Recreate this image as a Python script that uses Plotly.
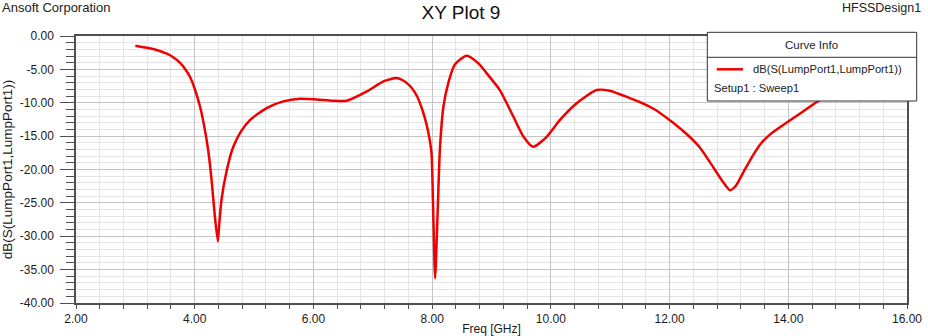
import plotly.graph_objects as go

# ---- data ----
freq_ghz = [3.00, 3.30, 3.53, 3.65, 3.75, 3.85, 3.92, 4.00, 4.09, 4.16, 4.23,
            4.29, 4.34, 4.39, 4.41, 4.45, 4.54, 4.65, 4.78, 4.93, 5.21, 5.49,
            5.77, 6.05, 6.33, 6.56, 6.90, 7.18, 7.40, 7.52, 7.64, 7.75, 7.84,
            7.91, 7.96, 7.99, 8.02, 8.05, 8.09, 8.13, 8.19, 8.27, 8.38, 8.58,
            8.78, 8.92, 9.14, 9.37, 9.54, 9.70, 9.93, 10.15, 10.43, 10.77,
            10.99, 11.33, 11.50, 11.73, 12.06, 12.30, 12.50, 12.68, 12.88,
            13.02, 13.12, 13.25, 13.41, 13.55, 13.70, 13.92, 14.25, 14.53,
            15.00, 15.50, 16.00]
s11_db = [-1.45, -1.95, -2.65, -3.25, -4.0, -5.1, -6.1, -7.9, -10.6, -13.5, -17.3,
          -22.1, -27.1, -30.8, -28.6, -24.6, -20.1, -16.6, -14.3, -12.6, -10.8, -9.8,
          -9.4, -9.5, -9.7, -9.7, -8.3, -6.8, -6.3, -6.7, -7.6, -9.1, -11.2,
          -13.4, -15.6, -17.6, -27.1, -36.3, -27.1, -17.1, -10.6, -7.1, -4.3, -2.95,
          -4.1, -5.6, -8.1, -12.1, -15.1, -16.6, -15.1, -12.6, -10.1, -8.1,
          -8.2, -9.3, -9.9, -10.9, -13.0, -14.8, -16.6, -18.9, -21.6,
          -23.1, -22.4, -20.3, -17.8, -16.0, -14.7, -13.3, -11.3, -9.6,
          -7.8, -6.5, -5.5]

x_tick_vals = [2, 4, 6, 8, 10, 12, 14, 16]
x_tick_labels = ["2.00", "4.00", "6.00", "8.00", "10.00", "12.00", "14.00", "16.00"]
y_tick_vals = [0, -5, -10, -15, -20, -25, -30, -35, -40]
y_tick_labels = ["0.00", "-5.00", "-10.00", "-15.00", "-20.00", "-25.00",
                 "-30.00", "-35.00", "-40.00"]

curve_name = "dB(S(LumpPort1,LumpPort1))"
sweep_name = "Setup1 : Sweep1"

# ---- geometry ----
W, H = 928, 336
L, R, T, B = 76, 907, 36, 303
PW, PH = R - L, B - T
FONT = "Liberation Sans, Arial, sans-serif"
RED = "#f00000"


def px(x):
    return (x - L) / PW


def py(y):
    return (B - y) / PH


fig = go.Figure()
fig.add_trace(go.Scatter(x=freq_ghz, y=s11_db, mode="lines",
                         line=dict(color=RED, width=2.5, shape="spline",
                                   smoothing=0.6),
                         showlegend=False))

grid_major = "#c4c4c4"
grid_minor = "#e4e4e4"
axis_col = "#505050"

fig.update_layout(
    width=W, height=H,
    margin=dict(l=L, r=W - R, t=T, b=H - B, pad=0, autoexpand=False),
    paper_bgcolor="white", plot_bgcolor="white",
    font=dict(family=FONT, size=12, color="#1a1a1a"),
    title=dict(text="XY Plot 9", x=461 / W, y=1 - 12 / H, xref="container",
               yref="container", xanchor="center", yanchor="middle",
               automargin=False,
               font=dict(family=FONT, size=19, color="#111")),
    xaxis=dict(range=[2, 16], tickmode="array", tickvals=x_tick_vals,
               ticktext=x_tick_labels, showgrid=True, gridcolor=grid_major,
               gridwidth=1, zeroline=False, showline=True, linecolor=axis_col,
               linewidth=1.5, mirror=True, ticks="outside", ticklen=4,
               tickcolor=axis_col, ticklabelstandoff=0, automargin=False,
               minor=dict(tick0=2, dtick=0.4, showgrid=True, gridcolor=grid_minor,
                          ticks="outside", ticklen=4, tickcolor=axis_col),
               title=dict(text="Freq [GHz]", standoff=3,
                          font=dict(family=FONT, size=12))),
    yaxis=dict(range=[-40, 0], tickmode="array", tickvals=y_tick_vals,
               ticktext=y_tick_labels, showgrid=True, gridcolor=grid_major,
               gridwidth=1, zeroline=False, showline=True, linecolor=axis_col,
               linewidth=1.5, mirror=True, ticks="outside", ticklen=14,
               tickcolor=axis_col, ticklabelstandoff=4, automargin=False,
               minor=dict(tick0=0, dtick=1, showgrid=True, gridcolor=grid_minor,
                          ticks="outside", ticklen=8, tickcolor=axis_col),
               title=dict(text=curve_name, standoff=5,
                          font=dict(family=FONT, size=13.5))),
)

# header texts
fig.add_annotation(text="Ansoft Corporation", xref="paper", yref="paper",
                   x=px(0), y=py(8), xanchor="left", yanchor="middle",
                   showarrow=False, font=dict(family=FONT, size=13, color="#222"))
fig.add_annotation(text="HFSSDesign1", xref="paper", yref="paper",
                   x=px(923), y=py(8), xanchor="right", yanchor="middle",
                   showarrow=False, font=dict(family=FONT, size=12.5, color="#222"))

# legend box ("Curve Info")
lx0, lx1, ly0, ly1, lsep = 707.3, 916.7, 32.3, 101, 57.3
fig.add_shape(type="rect", xref="paper", yref="paper", layer="above",
              x0=px(lx0), x1=px(lx1), y0=py(ly1), y1=py(ly0),
              fillcolor="white", line=dict(color="#333", width=1))
fig.add_shape(type="line", xref="paper", yref="paper", layer="above",
              x0=px(lx0), x1=px(lx1), y0=py(lsep), y1=py(lsep),
              line=dict(color="#333", width=1))
fig.add_shape(type="line", xref="paper", yref="paper", layer="above",
              x0=px(716.7), x1=px(743), y0=py(69.3), y1=py(69.3),
              line=dict(color=RED, width=2.5))
fig.add_annotation(text="Curve Info", xref="paper", yref="paper",
                   x=px(811), y=py(45), xanchor="center", yanchor="middle",
                   showarrow=False, font=dict(family=FONT, size=11.5, color="#222"))
fig.add_annotation(text=curve_name, xref="paper", yref="paper",
                   x=px(750.5), y=py(69.3), xanchor="left", yanchor="middle",
                   showarrow=False, font=dict(family=FONT, size=11.2, color="#222"))
fig.add_annotation(text=sweep_name, xref="paper", yref="paper",
                   x=px(712), y=py(88), xanchor="left", yanchor="middle",
                   showarrow=False, font=dict(family=FONT, size=11.2, color="#222"))

fig.write_html("out.html")
